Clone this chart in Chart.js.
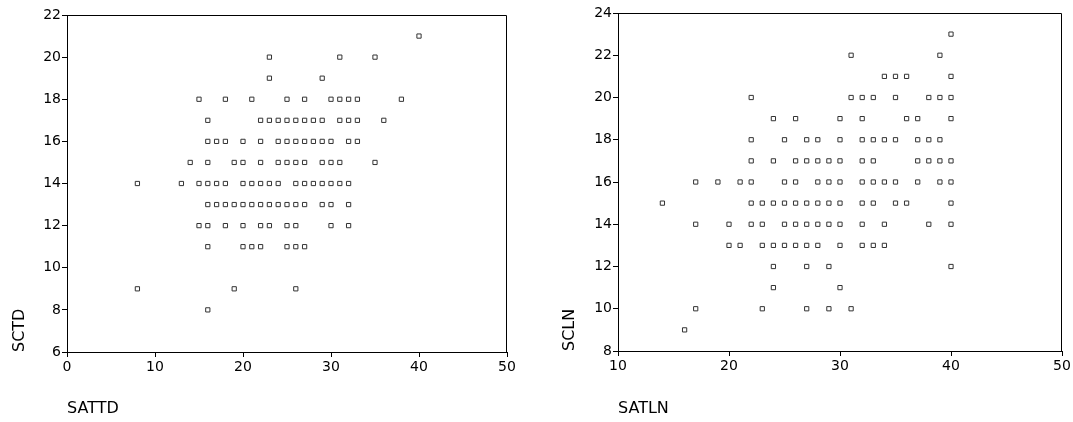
<!DOCTYPE html>
<html>
<head>
<meta charset="utf-8">
<script src="https://cdn.jsdelivr.net/npm/chart.js@4"></script>
<style>
  body { margin: 0; background: #fff; }
  #wrap { position: relative; width: 1073px; height: 422px; }
  canvas { position: absolute; top: 0; }
</style>
</head>
<body>
<div id="wrap">
  <canvas id="left" width="536" height="422" style="left:0"></canvas>
  <canvas id="right" width="537" height="422" style="left:536px"></canvas>
</div>
<script>
// left plot: SCTD levels and the SATTD values seen at each level
const sctdLevels = [21, 20, 19, 18, 17, 16, 15, 14, 13, 12, 11, 9, 8]
const sattdAtLevel = [
  [40],
  [23, 31, 35],
  [23, 29],
  [15, 18, 21, 25, 27, 30, 31, 32, 33, 38],
  [16, 22, 23, 24, 25, 26, 27, 28, 29, 31, 32, 33, 36],
  [16, 17, 18, 20, 22, 24, 25, 26, 27, 28, 29, 30, 32, 33],
  [14, 16, 19, 20, 22, 24, 25, 26, 27, 29, 30, 31, 35],
  [8, 13, 15, 16, 17, 18, 20, 21, 22, 23, 24, 26, 27, 28, 29, 30, 31, 32],
  [16, 17, 18, 19, 20, 21, 22, 23, 24, 25, 26, 27, 29, 30, 32],
  [15, 16, 18, 20, 22, 23, 25, 26, 30, 32],
  [16, 20, 21, 22, 25, 26, 27],
  [8, 19, 26],
  [16]
]

// right plot: SCLN levels and the SATLN values seen at each level
const sclnLevels = [23, 22, 21, 20, 19, 18, 17, 16, 15, 14, 13, 12, 11, 10, 9]
const satlnAtLevel = [
  [40],
  [31, 39],
  [34, 35, 36, 40],
  [22, 31, 32, 33, 35, 38, 39, 40],
  [24, 26, 30, 32, 36, 37, 40],
  [22, 25, 27, 28, 30, 32, 33, 34, 35, 37, 38, 39],
  [22, 24, 26, 27, 28, 29, 30, 32, 33, 37, 38, 39, 40],
  [17, 19, 21, 22, 25, 26, 28, 29, 30, 32, 33, 34, 35, 37, 39, 40],
  [14, 22, 23, 24, 25, 26, 27, 28, 29, 30, 32, 33, 35, 36, 40],
  [17, 20, 22, 23, 25, 26, 27, 28, 29, 30, 32, 34, 38, 40],
  [20, 21, 23, 24, 25, 26, 27, 28, 30, 32, 33, 34],
  [24, 27, 29, 40],
  [24, 30],
  [17, 23, 27, 29, 31],
  [16]
]

const FONT = 'DejaVu Sans'

function toPoints (levels, xsAtLevel) {
  const pts = []
  levels.forEach((y, i) => {
    xsAtLevel[i].forEach(x => pts.push({ x: x, y: y }))
  })
  return pts
}

// top and right edges of the plot box
const frame = {
  id: 'frame',
  afterDraw (chart) {
    const a = chart.chartArea
    const ctx = chart.ctx
    ctx.save()
    ctx.strokeStyle = '#000'
    ctx.lineWidth = 1
    ctx.beginPath()
    ctx.moveTo(Math.round(a.left) + 0.5, Math.round(a.top) + 0.5)
    ctx.lineTo(Math.round(a.right) - 0.5, Math.round(a.top) + 0.5)
    ctx.lineTo(Math.round(a.right) - 0.5, Math.round(a.bottom) + 0.5)
    ctx.stroke()
    ctx.restore()
  }
}

function scatter (id, opts) {
  const ctx = document.getElementById(id).getContext('2d')
  return new Chart(ctx, {
    type: 'scatter',
    data: {
      datasets: [{
        data: toPoints(opts.levels, opts.xs),
        pointStyle: 'rect',
        pointRadius: 3,
        pointHoverRadius: 3,
        pointBorderWidth: 1,
        pointBorderColor: '#333',
        pointBackgroundColor: '#fff'
      }]
    },
    options: {
      responsive: false,
      animation: false,
      events: [],
      layout: { padding: opts.padding },
      plugins: { legend: { display: false }, tooltip: { enabled: false } },
      scales: {
        x: {
          type: 'linear',
          min: opts.xMin,
          max: 50,
          afterFit: (s) => { s.height = opts.xHeight },
          ticks: { stepSize: 10, color: '#000', font: { family: FONT, size: 14 }, padding: 2 },
          grid: { drawOnChartArea: false, drawTicks: true, tickLength: 5, color: '#000' },
          border: { color: '#000', width: 1 },
          title: {
            display: true,
            text: opts.xTitle,
            align: 'start',
            color: '#000',
            font: { family: FONT, size: 16 },
            padding: { top: 0, bottom: 4 }
          }
        },
        y: {
          type: 'linear',
          min: opts.yMin,
          max: opts.yMax,
          afterFit: (s) => { s.width = opts.yWidth },
          ticks: { stepSize: 2, color: '#000', font: { family: FONT, size: 14 }, padding: 1 },
          grid: { drawOnChartArea: false, drawTicks: true, tickLength: 5, color: '#000' },
          border: { color: '#000', width: 1 },
          title: {
            display: true,
            text: opts.yTitle,
            align: 'start',
            color: '#000',
            font: { family: FONT, size: 16 },
            padding: { top: opts.yTitlePad, bottom: 0 }
          }
        }
      }
    },
    plugins: [frame]
  })
}

scatter('left', {
  levels: sctdLevels,
  xs: sattdAtLevel,
  xMin: 0,
  yMin: 6,
  yMax: 22,
  xTitle: 'SATTD',
  yTitle: 'SCTD',
  padding: { top: 15, right: 29, bottom: 0, left: 0 },
  xHeight: 70,
  yWidth: 67,
  yTitlePad: 10
})

scatter('right', {
  levels: sclnLevels,
  xs: satlnAtLevel,
  xMin: 10,
  yMin: 8,
  yMax: 24,
  xTitle: 'SATLN',
  yTitle: 'SCLN',
  padding: { top: 13, right: 11, bottom: 0, left: 0 },
  xHeight: 71,
  yWidth: 82,
  yTitlePad: 24
})
</script>
</body>
</html>
